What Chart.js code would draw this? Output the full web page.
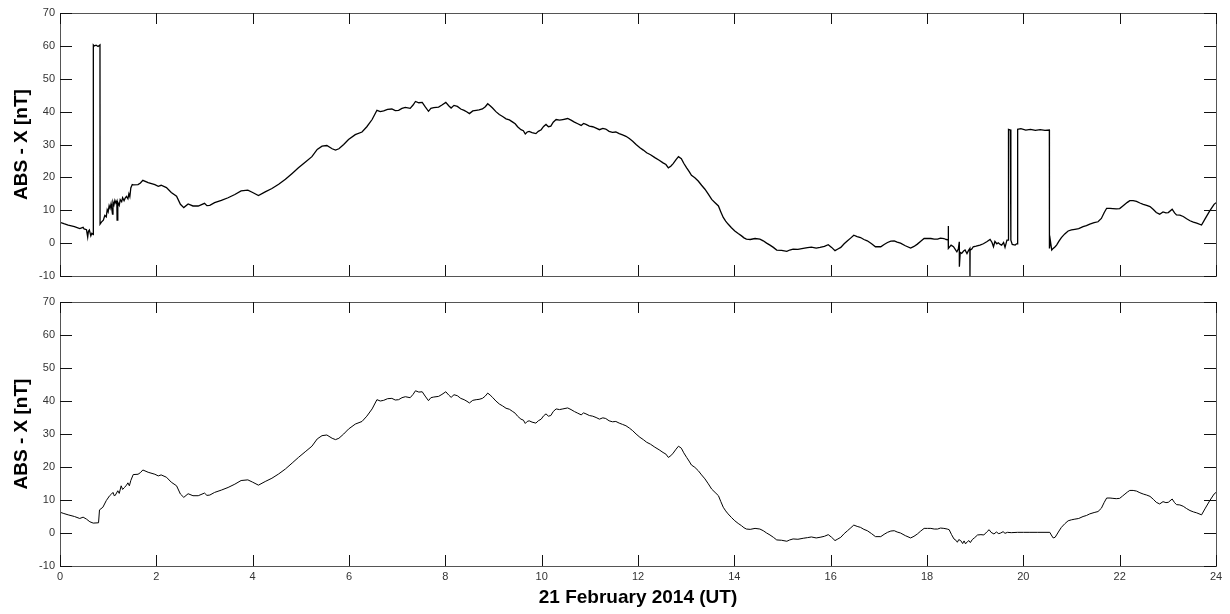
<!DOCTYPE html>
<html>
<head>
<meta charset="utf-8">
<script src="https://cdn.jsdelivr.net/npm/chart.js@4.4.1/dist/chart.umd.min.js"></script>
<style>
    html, body { margin: 0; padding: 0; background: #fff; }
    #wrap { position: relative; width: 1230px; height: 614px; }
    .panel { position: absolute; left: 0; }
</style>
</head>
<body>
<div id="wrap">
    <div class="panel" style="top:0"><canvas id="topChart" width="1230" height="290"></canvas></div>
    <div class="panel" style="top:290px"><canvas id="bottomChart" width="1230" height="324"></canvas></div>
</div>
<script>
// Tick values
const hourTicks = [0, 2, 4, 6, 8, 10, 12, 14, 16, 18, 20, 22, 24];
const nTTicks = [-10, 0, 10, 20, 30, 40, 50, 60, 70];

// Cleaned ABS - X series (lower panel), hours UT
const hours = [
    0, 0.08, 0.17, 0.3, 0.41, 0.48, 0.55, 0.62, 0.69, 0.8, 0.82, 0.89, 0.96, 1.03, 1.07, 1.1, 1.13, 1.15, 1.2, 1.23,
    1.27, 1.3, 1.34, 1.38, 1.41, 1.44, 1.47, 1.52, 1.62, 1.67, 1.72, 1.83, 1.97, 2.04, 2.1, 2.21, 2.31, 2.42, 2.5, 2.57,
    2.66, 2.76, 2.87, 3.0, 3.05, 3.11, 3.21, 3.35, 3.49, 3.63, 3.76, 3.9, 4.0, 4.12, 4.26, 4.4, 4.54, 4.68, 4.82, 4.95,
    5.09, 5.23, 5.34, 5.44, 5.54, 5.65, 5.72, 5.79, 5.89, 5.99, 6.13, 6.27, 6.37, 6.48, 6.58, 6.65, 6.72, 6.8, 6.89, 6.96,
    7.03, 7.1, 7.17, 7.27, 7.33, 7.38, 7.45, 7.52, 7.58, 7.65, 7.7, 7.76, 7.86, 7.93, 8.01, 8.07, 8.12, 8.18, 8.25, 8.32,
    8.39, 8.45, 8.5, 8.57, 8.64, 8.7, 8.77, 8.83, 8.88, 8.93, 8.98, 9.05, 9.12, 9.19, 9.26, 9.33, 9.4, 9.45, 9.5, 9.57,
    9.62, 9.66, 9.7, 9.74, 9.8, 9.88, 9.93, 9.99, 10.04, 10.09, 10.14, 10.19, 10.24, 10.3, 10.37, 10.44, 10.54, 10.61, 10.68, 10.75,
    10.82, 10.87, 10.92, 10.99, 11.06, 11.13, 11.2, 11.27, 11.33, 11.4, 11.47, 11.54, 11.61, 11.68, 11.75, 11.82, 11.89, 11.96, 12.04, 12.11,
    12.18, 12.26, 12.35, 12.44, 12.52, 12.58, 12.63, 12.68, 12.73, 12.79, 12.84, 12.9, 12.95, 13.01, 13.06, 13.11, 13.18, 13.25, 13.32, 13.39,
    13.46, 13.53, 13.6, 13.67, 13.72, 13.77, 13.82, 13.87, 13.94, 14.01, 14.08, 14.15, 14.2, 14.25, 14.33, 14.43, 14.53, 14.6, 14.67, 14.74,
    14.81, 14.88, 14.98, 15.09, 15.15, 15.22, 15.32, 15.43, 15.52, 15.6, 15.7, 15.78, 15.87, 15.95, 16.02, 16.09, 16.15, 16.21, 16.28, 16.35,
    16.42, 16.48, 16.55, 16.62, 16.69, 16.76, 16.85, 16.93, 17.04, 17.11, 17.18, 17.25, 17.32, 17.38, 17.45, 17.55, 17.66, 17.73, 17.8, 17.87,
    17.94, 18.01, 18.08, 18.15, 18.22, 18.28, 18.35, 18.42, 18.46, 18.51, 18.56, 18.6, 18.63, 18.66, 18.7, 18.74, 18.77, 18.8, 18.84, 18.87,
    18.9, 18.94, 18.99, 19.05, 19.12, 19.18, 19.24, 19.29, 19.33, 19.39, 19.44, 19.49, 19.53, 19.58, 19.62, 19.67, 19.75, 19.88, 20.0, 20.12,
    20.3, 20.55, 20.58, 20.62, 20.66, 20.69, 20.74, 20.79, 20.86, 20.93, 21.0, 21.07, 21.15, 21.24, 21.31, 21.38, 21.47, 21.55, 21.62, 21.68,
    21.73, 21.8, 21.86, 21.93, 22.0, 22.06, 22.11, 22.16, 22.21, 22.28, 22.35, 22.42, 22.49, 22.56, 22.63, 22.7, 22.76, 22.83, 22.9, 22.96,
    23.01, 23.09, 23.14, 23.18, 23.25, 23.32, 23.39, 23.46, 23.53, 23.6, 23.7, 23.77, 23.87, 23.96, 24.0
];
const absX = [
    6.3, 5.9, 5.5, 5.0, 4.4, 4.8, 4.2, 3.4, 3.0, 3.1, 7.0, 7.8, 9.8, 11.3, 11.8, 12.3, 11.2, 11.5, 12.8, 12.0,
    14.3, 13.2, 13.8, 14.5, 15.2, 14.3, 15.9, 17.7, 17.8, 18.3, 19.1, 18.4, 17.8, 17.3, 17.6, 16.9, 15.4, 14.3, 11.8, 10.8,
    11.9, 11.3, 11.3, 12.1, 11.4, 11.5, 12.3, 13.0, 13.8, 14.8, 15.9, 16.1, 15.4, 14.5, 15.6, 16.6, 17.9, 19.4, 21.2, 22.9,
    24.6, 26.3, 28.5, 29.5, 29.7, 28.7, 28.3, 28.7, 30.0, 31.5, 33.0, 33.8, 35.4, 37.6, 40.4, 40.0, 40.2, 40.7, 40.8, 40.3,
    40.4, 41.0, 41.3, 41.0, 42.0, 43.1, 42.7, 42.8, 41.5, 40.1, 41.0, 41.2, 41.4, 42.0, 42.8, 41.8, 41.1, 41.9, 41.6, 40.8,
    40.4, 39.9, 39.4, 40.2, 40.4, 40.5, 40.8, 41.5, 42.4, 41.8, 41.1, 40.0, 39.1, 38.5, 37.8, 37.5, 36.8, 36.3, 35.4, 34.5,
    34.2, 33.2, 33.8, 34.0, 33.6, 33.3, 34.0, 34.5, 35.5, 36.1, 35.4, 35.6, 36.8, 37.6, 37.4, 37.6, 37.9, 37.4, 36.8, 36.3,
    35.8, 36.4, 36.1, 35.6, 35.4, 35.0, 34.5, 34.9, 34.7, 34.0, 33.7, 33.8, 33.3, 32.9, 32.5, 31.8, 31.0, 30.0, 29.0, 28.3,
    27.5, 26.9, 26.0, 25.2, 24.4, 23.9, 22.9, 23.4, 24.2, 25.4, 26.3, 25.7, 24.3, 22.9, 21.8, 20.6, 19.9, 18.9, 17.6, 16.4,
    14.9, 13.3, 12.3, 11.3, 9.5, 7.8, 6.7, 5.8, 4.7, 3.7, 2.9, 2.2, 1.6, 1.2, 1.1, 1.4, 1.2, 0.7, 0.0, -0.6,
    -1.3, -2.1, -2.2, -2.5, -2.1, -1.8, -1.9, -1.6, -1.4, -1.2, -1.5, -1.3, -1.0, -0.5, -1.3, -2.3, -1.8, -1.3, -0.2, 0.7,
    1.6, 2.4, 2.0, 1.7, 1.1, 0.7, -0.2, -1.1, -1.1, -0.4, 0.2, 0.6, 0.7, 0.3, 0.0, -0.8, -1.5, -1.0, -0.3, 0.6,
    1.4, 1.4, 1.4, 1.2, 1.2, 1.5, 1.4, 1.2, 1.0, -0.5, -1.8, -2.2, -2.8, -2.0, -2.3, -3.2, -2.4, -3.3, -2.6, -2.3,
    -2.9, -2.0, -1.4, -0.6, -0.5, -0.6, 0.3, 1.0, 0.2, -0.3, 0.3, -0.2, 0.0, 0.4, -0.1, 0.2, 0.1, 0.2, 0.2, 0.2,
    0.2, 0.2, -0.6, -1.5, -1.3, -0.6, 0.6, 1.7, 2.8, 3.7, 4.0, 4.2, 4.4, 5.0, 5.3, 5.8, 6.2, 6.5, 7.5, 9.3,
    10.6, 10.6, 10.5, 10.4, 10.5, 11.2, 11.8, 12.4, 12.9, 12.9, 12.7, 12.2, 11.8, 11.5, 11.1, 10.2, 9.3, 8.8, 9.5, 9.2,
    9.3, 10.3, 9.2, 8.6, 8.5, 8.1, 7.4, 6.8, 6.4, 6.1, 5.5, 7.3, 9.8, 11.8, 12.3
];

// Raw data in the upper panel differs from the cleaned one only in these stretches
const spikeHoursA = [
    0.5, 0.55, 0.575, 0.59, 0.61, 0.64, 0.66, 0.69, 0.692, 0.71, 0.75, 0.79, 0.83, 0.832, 0.86, 0.9, 0.93, 0.96, 0.98, 1.0,
    1.02, 1.04, 1.06, 1.07, 1.09, 1.1, 1.12, 1.14, 1.16, 1.18, 1.185, 1.2, 1.23, 1.25, 1.28, 1.3, 1.33, 1.35, 1.38, 1.41,
    1.43, 1.45, 1.47, 1.5
];
const spikeValuesA = [
    4.3, 4.1, 1.8, 3.6, 4.0, 2.2, 3.0, 2.6, 60.3, 60.0, 60.2, 59.8, 60.3, 5.8, 6.4, 7.0, 8.4, 8.0, 10.2, 9.5,
    11.4, 10.6, 12.0, 11.0, 8.8, 12.5, 11.6, 13.0, 12.2, 12.8, 7.0, 12.4, 11.5, 13.2, 12.6, 13.8, 12.9, 13.6, 14.2, 13.5,
    15.0, 14.1, 16.8, 17.8
];
const spikeHoursB = [
    18.4, 18.44, 18.442, 18.445, 18.5, 18.55, 18.6, 18.62, 18.65, 18.67, 18.672, 18.69, 18.72, 18.76, 18.79, 18.83, 18.86, 18.89, 18.892, 18.895,
    18.93, 18.96, 19.02, 19.1, 19.17, 19.24, 19.31, 19.35, 19.38, 19.41, 19.45, 19.48, 19.52, 19.55, 19.59, 19.62, 19.66, 19.69, 19.692, 19.73,
    19.74, 19.742, 19.77, 19.83, 19.86, 19.88, 19.882, 19.95, 20.05, 20.15, 20.25, 20.35, 20.45, 20.54, 20.542, 20.56, 20.59, 20.62, 20.66, 20.69
];
const spikeValuesB = [
    1.1, 1.0, 5.2, -1.6, -0.6, -1.1, -2.2, -2.6, -1.8, 0.4, -7.2, -2.8, -3.1, -2.4, -2.1, -3.2, -2.3, -1.6, -10, -2.2,
    -1.8, -1.1, -0.9, -0.6, -0.2, 0.4, 1.1, 0.2, -1.1, 0.5, -0.2, 0.1, -0.4, -0.6, 0.2, -1.3, 0.9, 0.9, 34.6, 34.4,
    34.6, 0.9, -0.4, -0.6, -0.2, -0.2, 34.6, 34.8, 34.4, 34.6, 34.3, 34.5, 34.3, 34.4, -1.6, 0.9, -2.1, -1.6, -1.1, -0.6
];

document.addEventListener("DOMContentLoaded", function () {
    const patches = [[spikeHoursA, spikeValuesA], [spikeHoursB, spikeValuesB]];

    const cleanPoints = hours.map((h, i) => ({ x: h, y: absX[i] }));

    // Upper panel: cleaned points outside the patches plus the raw patch points
    let rawPoints = cleanPoints.filter(p =>
        !patches.some(([hs]) => p.x >= hs[0] && p.x <= hs[hs.length - 1]));
    patches.forEach(([hs, vs]) => {
        hs.forEach((h, i) => rawPoints.push({ x: h, y: vs[i] }));
    });
    rawPoints.sort((a, b) => a.x - b.x);

    // Box round the plot and inward ticks on all four sides
    const boxPlugin = {
        id: "box",
        afterDatasetsDraw(chart) {
            const { ctx, chartArea: a, scales: { x, y } } = chart;
            ctx.save();
            ctx.strokeStyle = "#555";
            ctx.lineWidth = 1;
            ctx.strokeRect(a.left + 0.5, a.top + 0.5, a.right - a.left, a.bottom - a.top);
            ctx.strokeStyle = "#111";
            ctx.beginPath();
            hourTicks.forEach(v => {
                const px = Math.round(x.getPixelForValue(v)) + 0.5;
                ctx.moveTo(px, a.bottom);
                ctx.lineTo(px, a.bottom - 11);
                ctx.moveTo(px, a.top);
                ctx.lineTo(px, a.top + 11);
            });
            nTTicks.forEach(v => {
                const py = Math.round(y.getPixelForValue(v)) + 0.5;
                ctx.moveTo(a.left, py);
                ctx.lineTo(a.left + 12, py);
                ctx.moveTo(a.right, py);
                ctx.lineTo(a.right - 12, py);
            });
            ctx.stroke();
            ctx.restore();
        }
    };

    const tickFont = { family: "'Liberation Sans', Arial, sans-serif", size: 11 };
    const titleFont = { family: "'Liberation Sans', Arial, sans-serif", size: 19, weight: "bold" };

    function makeChart(id, points, lineWidth, showX, padTop, xHeight) {
        return new Chart(document.getElementById(id), {
            type: "line",
            data: {
                datasets: [{
                    data: points,
                    borderColor: "#000",
                    borderWidth: lineWidth,
                    pointRadius: 0,
                    fill: false,
                    tension: 0
                }]
            },
            options: {
                responsive: false,
                devicePixelRatio: 1,
                animation: false,
                events: [],
                layout: { padding: { top: padTop, right: 14, left: 0, bottom: 0 } },
                plugins: { legend: { display: false }, tooltip: { enabled: false } },
                scales: {
                    x: {
                        type: "linear",
                        min: 0,
                        max: 24,
                        afterBuildTicks: s => { s.ticks = hourTicks.map(v => ({ value: v })); },
                        afterFit: s => { s.height = xHeight; },
                        grid: { display: false, drawTicks: false },
                        border: { display: false },
                        ticks: { display: showX, padding: 4, color: "#333", font: tickFont, maxRotation: 0 },
                        title: {
                            display: showX,
                            text: "21 February 2014 (UT)",
                            color: "#000",
                            font: titleFont,
                            padding: { top: 0, bottom: 5 }
                        }
                    },
                    y: {
                        min: -10,
                        max: 70,
                        afterBuildTicks: s => { s.ticks = nTTicks.map(v => ({ value: v })); },
                        afterFit: s => { s.width = 60; },
                        grid: { display: false, drawTicks: false },
                        border: { display: false },
                        ticks: { padding: 5, color: "#333", font: tickFont },
                        title: {
                            display: true,
                            text: "ABS - X [nT]",
                            color: "#000",
                            font: titleFont,
                            padding: { top: 10, bottom: 0 }
                        }
                    }
                }
            },
            plugins: [boxPlugin]
        });
    }

    makeChart("topChart", rawPoints, 1.3, false, 13, 14);
    makeChart("bottomChart", cleanPoints, 1, true, 12, 48);
});
</script>
</body>
</html>
